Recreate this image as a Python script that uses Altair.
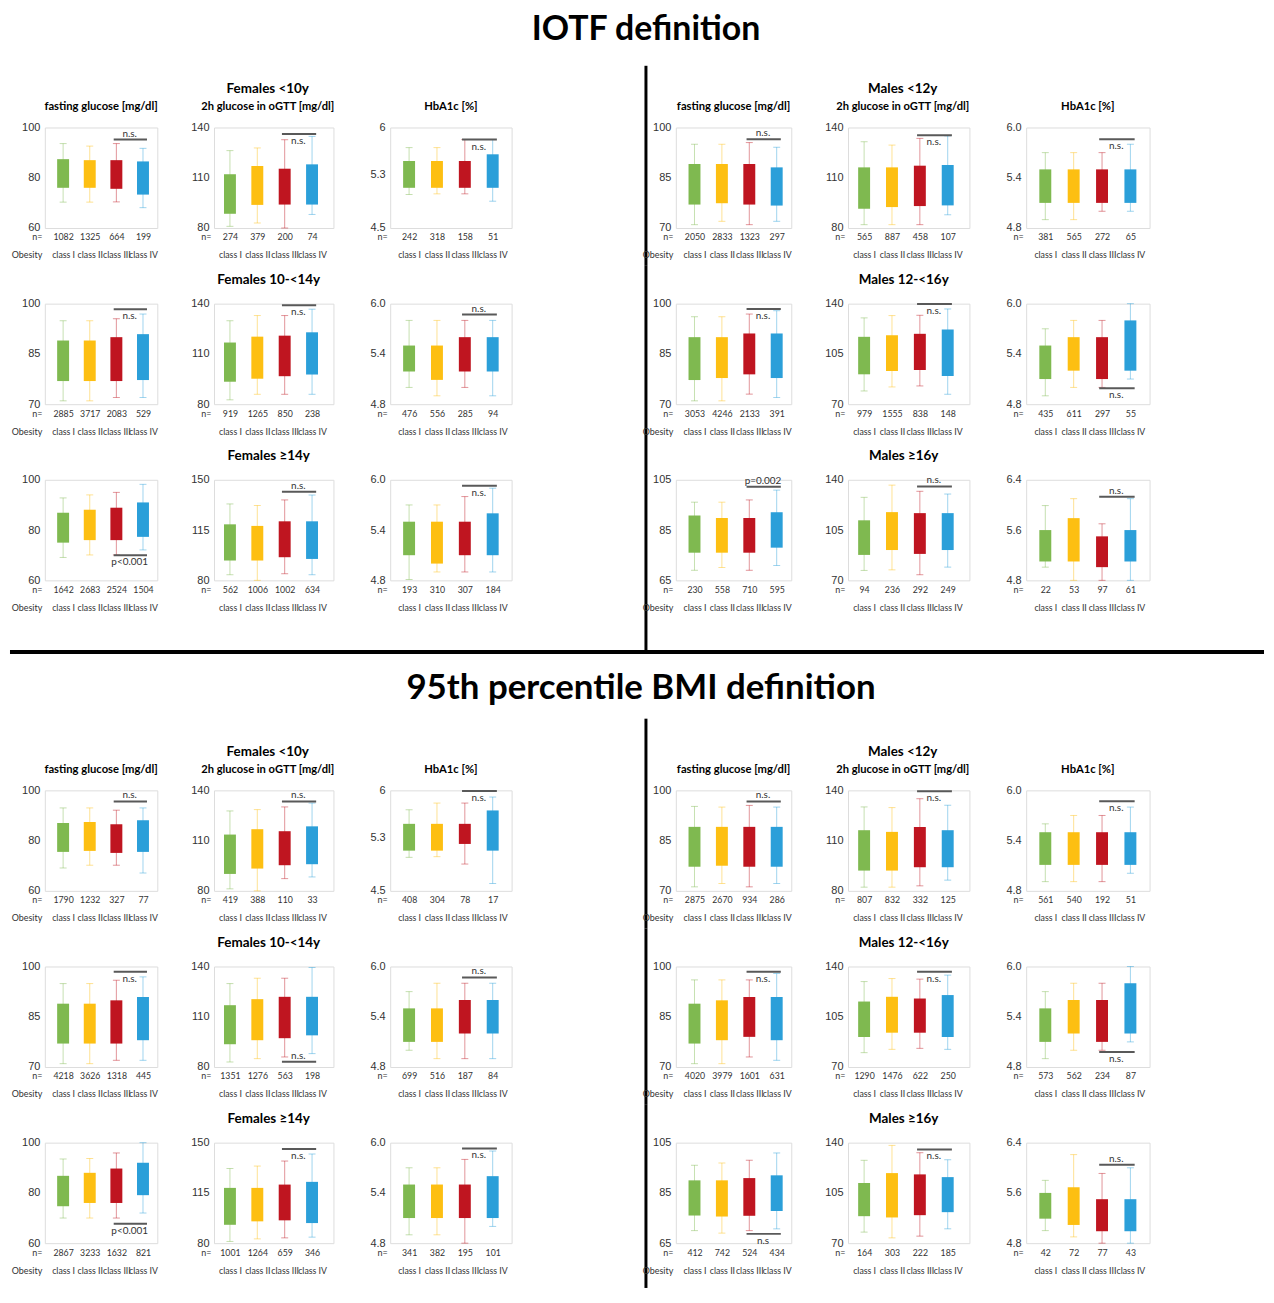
import altair as alt
import pandas as pd

# ---------------- data ----------------
CLASSES = ["class I", "class II", "class III", "class IV"]
COLORS = ["#7FB950", "#FDBF12", "#BF1520", "#2B9FD9"]
SECTION_TITLES = ["IOTF definition", "95th percentile BMI definition"]
FEMALE_GROUPS = ["Females <10y", "Females 10-<14y", "Females \u226514y"]
MALE_GROUPS = ["Males <12y", "Males 12-<16y", "Males \u226516y"]
MEASURES = ["fasting glucose [mg/dl]", "2h glucose in oGTT [mg/dl]", "HbA1c [%]"]

# each row = age group; each box = (whisker low, Q1, Q3, whisker high)
IOTF_F_FASTING = [
    [(70.3, 76.0, 87.4, 93.6), (70.3, 76.0, 87.0, 92.6), (70.4, 75.6, 87.0, 93.6), (68.1, 73.3, 86.5, 91.7)],
    [(71.0, 76.9, 89.0, 94.9), (71.0, 76.9, 89.0, 94.9), (72.0, 76.9, 90.0, 95.5), (72.0, 77.2, 90.9, 96.9)],
    [(69.1, 75.0, 86.9, 92.8), (70.1, 76.0, 88.1, 94.0), (70.1, 76.0, 88.9, 95.0), (72.1, 77.3, 91.0, 98.2)],
]
IOTF_F_OGTT = [
    [(81.0, 88.5, 112.1, 126.2), (83.0, 93.8, 117.0, 127.8), (80.0, 94.0, 115.4, 132.7), (88.1, 94.0, 118.0, 134.7)],
    [(82.6, 93.4, 116.8, 129.8), (85.9, 95.2, 120.3, 132.9), (85.9, 96.7, 120.9, 132.9), (85.9, 97.7, 122.9, 136.7)],
    [(83.9, 93.8, 119.0, 133.2), (80.0, 93.8, 117.9, 132.1), (84.6, 96.1, 121.1, 136.0), (83.9, 94.9, 121.1, 139.4)],
]
IOTF_F_HBA1C = [
    [(5.00, 5.10, 5.50, 5.70), (5.01, 5.10, 5.50, 5.70), (5.01, 5.10, 5.50, 5.82), (4.90, 5.10, 5.60, 5.82)],
    [(5.00, 5.19, 5.50, 5.80), (4.90, 5.09, 5.50, 5.80), (5.00, 5.19, 5.60, 5.80), (4.90, 5.19, 5.60, 5.80)],
    [(4.81, 5.10, 5.50, 5.70), (4.90, 5.00, 5.50, 5.70), (4.90, 5.10, 5.50, 5.80), (4.90, 5.10, 5.60, 5.90)],
]
IOTF_M_FASTING = [
    [(71.0, 77.0, 89.1, 95.0), (72.0, 77.4, 89.1, 95.0), (71.0, 77.0, 89.1, 95.5), (72.0, 76.7, 88.1, 94.1)],
    [(71.0, 77.2, 90.0, 96.1), (71.0, 77.8, 90.0, 96.1), (73.0, 78.9, 91.1, 96.9), (72.0, 77.8, 91.1, 97.9)],
    [(69.0, 76.0, 90.8, 96.1), (70.1, 76.0, 89.8, 96.1), (69.0, 76.0, 89.8, 97.0), (70.9, 78.0, 92.1, 100.9)],
]
IOTF_M_OGTT = [
    [(82.0, 91.5, 116.2, 131.5), (82.0, 92.5, 116.2, 129.5), (82.0, 93.1, 117.2, 133.5), (87.9, 93.5, 117.6, 135.0)],
    [(79.2, 90.8, 116.9, 130.1), (82.0, 93.1, 118.0, 131.7), (82.7, 93.8, 119.0, 131.9), (76.9, 89.6, 122.0, 136.3)],
    [(76.9, 87.7, 111.8, 127.8), (77.3, 91.1, 117.5, 136.3), (73.9, 88.4, 116.8, 132.0), (79.2, 91.1, 116.8, 130.1)],
]
IOTF_M_HBA1C = [
    [(4.90, 5.10, 5.50, 5.70), (4.90, 5.10, 5.50, 5.70), (5.00, 5.10, 5.50, 5.70), (5.00, 5.10, 5.50, 5.80)],
    [(4.90, 5.10, 5.50, 5.70), (5.00, 5.20, 5.60, 5.80), (5.00, 5.10, 5.60, 5.80), (5.10, 5.20, 5.80, 6.00)],
    [(5.01, 5.10, 5.60, 5.99), (4.80, 5.10, 5.79, 6.10), (4.80, 5.01, 5.50, 5.70), (4.80, 5.10, 5.60, 6.10)],
]
P95_F_FASTING = [
    [(69.1, 75.5, 87.0, 93.0), (70.2, 75.9, 87.4, 93.0), (70.2, 75.1, 86.5, 92.1), (67.1, 75.5, 88.1, 93.0)],
    [(71.0, 77.0, 88.9, 94.9), (71.0, 77.0, 88.9, 94.9), (72.0, 77.0, 89.9, 95.9), (72.0, 78.0, 90.9, 96.9)],
    [(70.0, 74.7, 86.8, 93.5), (70.0, 76.0, 88.0, 93.7), (70.0, 76.0, 89.7, 95.9), (72.0, 79.1, 92.0, 100.0)],
]
P95_F_OGTT = [
    [(81.2, 90.1, 113.6, 127.7), (80.0, 93.3, 116.8, 128.5), (87.3, 95.3, 115.6, 130.1), (88.3, 95.9, 118.5, 132.4)],
    [(83.0, 93.6, 116.9, 129.8), (85.0, 96.0, 120.5, 133.0), (86.0, 97.2, 121.9, 133.0), (88.0, 98.9, 121.9, 139.4)],
    [(81.2, 92.8, 118.5, 132.0), (83.0, 95.2, 118.5, 133.7), (83.7, 95.9, 120.8, 137.2), (84.2, 94.0, 122.7, 142.1)],
]
P95_F_HBA1C = [
    [(5.00, 5.10, 5.50, 5.71), (5.01, 5.10, 5.50, 5.81), (4.90, 5.20, 5.50, 5.81), (4.61, 5.10, 5.70, 5.90)],
    [(5.00, 5.10, 5.50, 5.70), (4.90, 5.10, 5.50, 5.80), (4.90, 5.20, 5.60, 5.80), (4.90, 5.20, 5.60, 5.80)],
    [(4.90, 5.10, 5.50, 5.70), (4.90, 5.10, 5.50, 5.70), (4.80, 5.10, 5.50, 5.80), (5.00, 5.10, 5.60, 5.90)],
]
P95_M_FASTING = [
    [(71.2, 77.2, 89.1, 95.2), (72.2, 77.5, 89.1, 95.0), (71.2, 77.2, 89.1, 95.5), (72.2, 77.2, 89.1, 95.0)],
    [(71.0, 77.0, 88.9, 96.0), (71.0, 78.0, 89.9, 96.0), (73.0, 79.0, 90.9, 96.0), (72.0, 78.0, 90.9, 97.9)],
    [(70.0, 76.0, 90.0, 96.0), (69.0, 75.6, 90.0, 96.9), (70.0, 75.9, 90.9, 98.0), (70.7, 77.8, 92.0, 100.9)],
]
P95_M_OGTT = [
    [(82.2, 92.1, 116.2, 130.1), (82.2, 92.1, 115.2, 129.7), (83.0, 94.1, 118.1, 135.0), (86.4, 94.1, 116.2, 131.1)],
    [(80.0, 90.9, 115.6, 129.5), (82.3, 93.9, 118.9, 131.6), (83.0, 93.9, 117.7, 131.2), (82.3, 90.9, 120.1, 134.0)],
    [(77.7, 88.8, 111.9, 127.7), (73.7, 87.9, 118.8, 138.1), (74.9, 89.5, 117.9, 133.0), (80.0, 91.6, 116.0, 128.1)],
]
P95_M_HBA1C = [
    [(4.91, 5.11, 5.50, 5.60), (4.91, 5.11, 5.50, 5.70), (4.91, 5.11, 5.50, 5.70), (5.01, 5.11, 5.50, 5.80)],
    [(4.90, 5.10, 5.50, 5.70), (5.00, 5.20, 5.60, 5.80), (5.00, 5.10, 5.60, 5.80), (5.10, 5.20, 5.80, 6.00)],
    [(5.00, 5.19, 5.60, 5.80), (4.90, 5.09, 5.69, 6.21), (4.80, 4.99, 5.50, 5.91), (4.80, 4.99, 5.50, 6.00)],
]

# sample sizes: [fasting, oGTT, HbA1c] x age rows x classes
IOTF_F_N = [
    [[1082, 1325, 664, 199], [2885, 3717, 2083, 529], [1642, 2683, 2524, 1504]],
    [[274, 379, 200, 74], [919, 1265, 850, 238], [562, 1006, 1002, 634]],
    [[242, 318, 158, 51], [476, 556, 285, 94], [193, 310, 307, 184]],
]
IOTF_M_N = [
    [[2050, 2833, 1323, 297], [3053, 4246, 2133, 391], [230, 558, 710, 595]],
    [[565, 887, 458, 107], [979, 1555, 838, 148], [94, 236, 292, 249]],
    [[381, 565, 272, 65], [435, 611, 297, 55], [22, 53, 97, 61]],
]
P95_F_N = [
    [[1790, 1232, 327, 77], [4218, 3626, 1318, 445], [2867, 3233, 1632, 821]],
    [[419, 388, 110, 33], [1351, 1276, 563, 198], [1001, 1264, 659, 346]],
    [[408, 304, 78, 17], [699, 516, 187, 84], [341, 382, 195, 101]],
]
P95_M_N = [
    [[2875, 2670, 934, 286], [4020, 3979, 1601, 631], [412, 742, 524, 434]],
    [[807, 832, 332, 125], [1290, 1476, 622, 250], [164, 303, 222, 185]],
    [[561, 540, 192, 51], [573, 562, 234, 87], [42, 72, 77, 43]],
]

# significance bar between class III and IV: (y of bar, label, label side)
IOTF_F_SIG = [
    [(95.2, "n.s.", "above"), (98.3, "n.s.", "below"), (70.0, "p<0.001", "below")],
    [(136.1, "n.s.", "below"), (139.0, "n.s.", "below"), (141.7, "n.s.", "above")],
    [(5.82, "n.s.", "below"), (5.87, "n.s.", "above"), (5.93, "n.s.", "below")],
]
IOTF_M_SIG = [
    [(96.5, "n.s.", "above"), (98.4, "n.s.", "below"), (102.2, "p=0.002", "above")],
    [(135.4, "n.s.", "below"), (139.8, "n.s.", "below"), (135.4, "n.s.", "above")],
    [(5.86, "n.s.", "below"), (4.99, "n.s.", "below"), (6.13, "n.s.", "above")],
]
P95_F_SIG = [
    [(95.6, "n.s.", "above"), (98.4, "n.s.", "below"), (67.7, "p<0.001", "below")],
    [(133.4, "n.s.", "above"), (83.2, "n.s.", "above"), (145.6, "n.s.", "below")],
    [(5.99, "n.s.", "below"), (5.87, "n.s.", "above"), (5.93, "n.s.", "below")],
]
P95_M_SIG = [
    [(96.7, "n.s.", "above"), (98.4, "n.s.", "below"), (68.7, "n.s", "below")],
    [(139.4, "n.s.", "below"), (136.3, "n.s.", "below"), (135.3, "n.s.", "below")],
    [(5.87, "n.s.", "below"), (4.98, "n.s.", "below"), (6.05, "n.s.", "above")],
]

# y axis ticks (min, middle, max) per measure and age row
F_YTICKS = [
    [(60, 80, 100), (70, 85, 100), (60, 80, 100)],
    [(80, 110, 140), (80, 110, 140), (80, 115, 150)],
    [(4.5, 5.3, 6.0), (4.8, 5.4, 6.0), (4.8, 5.4, 6.0)],
]
M_YTICKS = [
    [(70, 85, 100), (70, 85, 100), (65, 85, 105)],
    [(80, 110, 140), (70, 105, 140), (70, 105, 140)],
    [(4.8, 5.4, 6.0), (4.8, 5.4, 6.0), (4.8, 5.6, 6.4)],
]
F_YFORMAT = [["d", "d", "d"], ["d", "d", "d"], ["~g", ".1f", ".1f"]]
M_YFORMAT = [["d", "d", "d"], ["d", "d", "d"], [".1f", ".1f", ".1f"]]

# ---------------- layout / style ----------------
TITLE_FONT = "Lato"
NUM_FONT = "Liberation Sans"
LABEL_FONT = "Lato"
TXT = "#333333"

H = 101
F_WIDTHS = [113, 120, 122]
M_WIDTHS = [116, 122, 124]
X_DOMAINS = [[0.5, 4.35], [0.6, 4.6], [0.5, 4.5]]
DIV_W = 51
DIV_X = 78
SEP_H = 59
ROW_SP = 76
COL_SP = 57


def make_panel(boxes, ns, yticks, yfmt, sig, xdom, width, title, xtitle):
    df = pd.DataFrame({
        "pos": [1, 2, 3, 4],
        "cls": CLASSES,
        "lo": [b[0] for b in boxes],
        "q1": [b[1] for b in boxes],
        "q3": [b[2] for b in boxes],
        "hi": [b[3] for b in boxes],
    })
    label_arr = "[" + ",".join(f"['{n}','{c}']" for n, c in zip(ns, CLASSES)) + "]"
    xaxis = alt.Axis(
        values=[1, 2, 3, 4], labelExpr=f"{label_arr}[datum.value - 1]",
        title=xtitle, domain=False, ticks=False, grid=False,
        labelFont=LABEL_FONT, labelFontSize=8.8, labelLineHeight=18, labelPadding=5,
        labelColor=TXT, labelOverlap=False, labelFlush=False, labelAngle=0,
        titleFont=LABEL_FONT, titleFontSize=9, titleFontWeight="normal", titleColor=TXT,
        titleAlign="right", titleBaseline="top", titleX=-3, titleY=5,
        titleLineHeight=18, titleAngle=0,
    )
    yaxis = alt.Axis(
        values=list(yticks), format=yfmt, domain=False, ticks=False, grid=False,
        labelFont=NUM_FONT, labelFontSize=11, labelColor=TXT, labelPadding=5, title=None,
    )
    xscale = alt.Scale(domain=xdom, nice=False, zero=False)
    yscale = alt.Scale(domain=[yticks[0], yticks[2]], nice=False, zero=False)

    def X(f):
        return alt.X(f, scale=xscale, axis=xaxis)

    def Y(f):
        return alt.Y(f, scale=yscale, axis=yaxis)

    color = alt.Color("cls:N", scale=alt.Scale(domain=CLASSES, range=COLORS), legend=None)
    base = alt.Chart(df)
    whisk = base.mark_rule(strokeWidth=1, opacity=0.45).encode(x=X("pos:Q"), y=Y("lo:Q"), y2="hi:Q", color=color)
    cap_lo = base.mark_tick(orient="horizontal", size=7, thickness=1, opacity=0.45).encode(
        x=X("pos:Q"), y=Y("lo:Q"), color=color)
    cap_hi = base.mark_tick(orient="horizontal", size=7, thickness=1, opacity=0.45).encode(
        x=X("pos:Q"), y=Y("hi:Q"), color=color)
    box = base.mark_bar(size=12).encode(x=X("pos:Q"), y=Y("q1:Q"), y2="q3:Q", color=color)

    sdf = pd.DataFrame({"x1": [2.9], "x2": [4.15], "xm": [3.5], "y": [sig[0]], "t": [sig[1]]})
    srule = alt.Chart(sdf).mark_rule(color="#595959", strokeWidth=2).encode(
        x=X("x1:Q"), x2="x2:Q", y=Y("y:Q"))
    if sig[2] == "above":
        stext = alt.Chart(sdf).mark_text(font=LABEL_FONT, fontSize=10, color=TXT, baseline="bottom", dy=-1)
    else:
        stext = alt.Chart(sdf).mark_text(font=LABEL_FONT, fontSize=10, color=TXT, baseline="top", dy=2)
    stext = stext.encode(x=X("xm:Q"), y=Y("y:Q"), text="t:N")

    layer = alt.layer(whisk, cap_lo, cap_hi, box, srule, stext).properties(width=width, height=H)
    if title is not None:
        layer = layer.properties(title=title)
    return layer


def side_title(text):
    return alt.TitleParams(text=text, font=TITLE_FONT, fontSize=11.3, fontWeight="bold",
                           color="black", anchor="middle", frame="group", offset=9)


def mid_title(group, measure):
    if measure is None:
        return alt.TitleParams(text=group, font=TITLE_FONT, fontSize=13.5, fontWeight="bold",
                               color="black", anchor="middle", frame="group", offset=11, dx=-5)
    return alt.TitleParams(text=group, subtitle=measure, font=TITLE_FONT, fontSize=13.5,
                           fontWeight="bold", color="black", subtitleFont=TITLE_FONT,
                           subtitleFontSize=11.2, subtitleFontWeight="bold", subtitleColor="black",
                           subtitlePadding=6, anchor="middle", frame="group", offset=9, dx=-6)


NOVIEW = alt.ViewBackground(strokeOpacity=0)
ONE = pd.DataFrame({"k": [0]})


def divider(y1, y2, height):
    return alt.Chart(ONE).mark_rule(color="black", strokeWidth=3).encode(
        x=alt.value(DIV_X), y=alt.value(y1), y2=alt.value(y2)
    ).properties(width=DIV_W, height=height, view=NOVIEW)


def blank(width, height):
    return alt.Chart(ONE).mark_point(opacity=0).encode(
        x=alt.value(0), y=alt.value(0)
    ).properties(width=width, height=height, view=NOVIEW)


SECTIONS = [
    {"F": (IOTF_F_FASTING, IOTF_F_OGTT, IOTF_F_HBA1C), "M": (IOTF_M_FASTING, IOTF_M_OGTT, IOTF_M_HBA1C),
     "FN": IOTF_F_N, "MN": IOTF_M_N, "FS": IOTF_F_SIG, "MS": IOTF_M_SIG},
    {"F": (P95_F_FASTING, P95_F_OGTT, P95_F_HBA1C), "M": (P95_M_FASTING, P95_M_OGTT, P95_M_HBA1C),
     "FN": P95_F_N, "MN": P95_M_N, "FS": P95_F_SIG, "MS": P95_M_SIG},
]

DIV_SPANS = [
    [(-62, H + ROW_SP // 2), (-ROW_SP // 2, H + ROW_SP // 2), (-ROW_SP // 2, 172)],
    [(-72, H + ROW_SP // 2), (-ROW_SP // 2, H + ROW_SP // 2), (-ROW_SP // 2, 146)],
]

cells = []
for s, sec in enumerate(SECTIONS):
    for r in range(3):
        for sex in ("F", "M"):
            groups = FEMALE_GROUPS if sex == "F" else MALE_GROUPS
            widths = F_WIDTHS if sex == "F" else M_WIDTHS
            yt = F_YTICKS if sex == "F" else M_YTICKS
            yf = F_YFORMAT if sex == "F" else M_YFORMAT
            for c in range(3):
                if c == 1:
                    title = mid_title(groups[r], MEASURES[1] if r == 0 else None)
                else:
                    title = side_title(MEASURES[c]) if r == 0 else None
                xtitle = ["n=", "Obesity"] if c == 0 else "n="
                cells.append(make_panel(sec[sex][c][r], sec[sex + "N"][c][r], yt[c][r], yf[c][r],
                                        sec[sex + "S"][c][r], X_DOMAINS[c], widths[c], title, xtitle))
            if sex == "F":
                y1, y2 = DIV_SPANS[s][r]
                cells.append(divider(y1, y2, H))
    if s == 0:
        hline = alt.Chart(ONE).mark_rule(color="black", strokeWidth=4).encode(
            x=alt.value(-35), x2=alt.value(1225), y=alt.value(-4)
        ).properties(width=F_WIDTHS[0], height=SEP_H, view=NOVIEW)
        sec_title = alt.Chart(pd.DataFrame({"t": [SECTION_TITLES[1]]})).mark_text(
            font=TITLE_FONT, fontSize=35, fontWeight="bold", color="black", align="center",
            baseline="middle"
        ).encode(text="t:N", x=alt.value(DIV_X - 5), y=alt.value(32)).properties(
            width=DIV_W, height=SEP_H, view=NOVIEW)
        cells += [hline, blank(F_WIDTHS[1], SEP_H), blank(F_WIDTHS[2], SEP_H), sec_title,
                  blank(M_WIDTHS[0], SEP_H), blank(M_WIDTHS[1], SEP_H), blank(M_WIDTHS[2], SEP_H)]

chart = alt.concat(
    *cells, columns=7, spacing={"row": ROW_SP, "column": COL_SP}, bounds="flush", align="each",
    title=alt.TitleParams(SECTION_TITLES[0], font=TITLE_FONT, fontSize=34, fontWeight="bold",
                          color="black", anchor="middle", offset=17, dx=9),
).properties(padding={"left": 0, "top": 2, "right": 0, "bottom": 0}).configure_view(
    stroke="#d9d9d9", strokeWidth=1
).configure(background="white")

chart.save("out.html", embed_options={"renderer": "svg", "actions": False})
